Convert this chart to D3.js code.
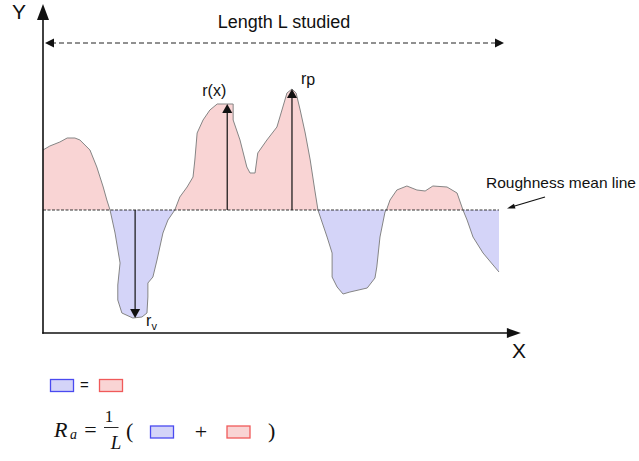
<!DOCTYPE html>
<html lang="en">
<head>
<meta charset="UTF-8">
<title>Roughness profile</title>
<script src="https://d3js.org/d3.v7.min.js"></script>
<style>
    body { margin: 0; padding: 0; background: #fff; }
    svg { display: block; }
    .lbl { font-family: 'Liberation Sans', Arial, sans-serif; fill: #111; }
    .math text { font-family: 'Liberation Serif', 'DejaVu Serif', serif; fill: #111; }
</style>
</head>
<body>
<div id="chart"></div>
<script>
// profile: position along the length studied (0..100) and height above mean line
const profileX = [0, 1.5, 3.7, 5.3, 7.0, 8.1, 10.3, 11.8, 13.2, 14.0, 14.7, 15.8, 16.9, 16.4, 16.4, 17.3, 19.7, 21.7, 22.8, 23.0,
    23.0, 24.1, 25.0, 26.3, 27.4, 28.9, 30.0, 31.6, 32.9, 33.3, 33.8, 35.1, 36.6, 38.2, 41.7, 41.7, 43.2, 44.7, 45.4, 46.5,
    47.1, 49.1, 51.3, 52.6, 53.5, 54.6, 55.5, 56.4, 57.5, 58.6, 59.6, 60.3, 62.3, 63.4, 63.4, 64.5, 65.8, 67.3, 71.1, 72.8,
    73.2, 73.9, 75.0, 75.4, 76.1, 77.6, 79.8, 82.0, 83.8, 85.5, 88.6, 90.8, 92.1, 93.0, 94.3, 96.5, 98.7, 100];
const profileR = [15, 16, 17, 18, 18, 17.5, 15, 10.75, 5.75, 2.5, 0, -5.75, -13.25, -18.75, -22.5, -25.75, -27, -26.75, -25.75, -21.75,
    -18.25, -16.75, -12.5, -5.75, -2.5, 0, 3.25, 5.75, 8.25, 12.5, 19.25, 22.5, 25, 26.5, 26.5, 22.5, 17.5, 10.75, 9.25, 9.25,
    14.25, 17.5, 20.75, 25.75, 29.25, 30.25, 29.25, 25, 19.25, 12.5, 5, 0, -6.75, -10.75, -16.75, -19.25, -21, -20.5, -19.5, -17,
    -14.25, -6.75, -0.5, 0.25, 2.5, 5, 6, 5, 4.75, 6, 5.75, 4.25, 0, -2.5, -6.75, -10.75, -13.75, -15.5];

// measured heights: r(x), peak rp, valley rv
const arrowLabels = ["r(x)", "rp", "rv"];
const arrowX = [40.4, 54.6, 20.2];
const arrowR = [26.5, 30.25, -27];

const profile = profileX.map((x, i) => ({ x: x, r: profileR[i] }));

const W = 639, H = 461;
const x = d3.scaleLinear().domain([0, 100]).range([43, 499]);
const y = d3.scaleLinear().domain([-30, 50]).range([330, 10]);
const x0 = x(0), y0 = y(0);
const axisY = y(-30.75), axisTop = y(51.5), axisRight = x(104.8);

const pink = "#f9d4d4", blue = "#d4d4f8";

const svg = d3.select("#chart").append("svg").attr("width", W).attr("height", H);
const defs = svg.append("defs");
defs.append("clipPath").attr("id", "above")
    .append("rect").attr("x", 0).attr("y", 0).attr("width", W).attr("height", y0);
defs.append("clipPath").attr("id", "below")
    .append("rect").attr("x", 0).attr("y", y0).attr("width", W).attr("height", H - y0);

const area = d3.area().x(d => x(d.x)).y0(y0).y1(d => y(d.r));
svg.append("path").datum(profile).attr("d", area).attr("fill", pink).attr("clip-path", "url(#above)");
svg.append("path").datum(profile).attr("d", area).attr("fill", blue).attr("clip-path", "url(#below)");
svg.append("path").datum(profile)
    .attr("d", d3.line().x(d => x(d.x)).y(d => y(d.r)))
    .attr("fill", "none").attr("stroke", "#858585").attr("stroke-width", 1);

// mean line
svg.append("line").attr("x1", x0).attr("x2", x(100)).attr("y1", y0).attr("y2", y0)
    .attr("stroke", "#333").attr("stroke-width", 1).attr("stroke-dasharray", "3,1.5");

function tri(tx, ty, dir, len, hw) {
    // dir: "up", "down", "left", "right"
    let p;
    if (dir === "up") p = [[tx, ty], [tx - hw, ty + len], [tx + hw, ty + len]];
    else if (dir === "down") p = [[tx, ty], [tx - hw, ty - len], [tx + hw, ty - len]];
    else if (dir === "left") p = [[tx, ty], [tx + len, ty - hw], [tx + len, ty + hw]];
    else p = [[tx, ty], [tx - len, ty - hw], [tx - len, ty + hw]];
    svg.append("path").attr("d", "M" + p.join("L") + "Z").attr("fill", "#111");
}

// height arrows
arrowX.forEach((ax, i) => {
    const tipY = y(arrowR[i]);
    const up = arrowR[i] > 0;
    svg.append("line").attr("x1", x(ax)).attr("x2", x(ax)).attr("y1", y0)
        .attr("y2", up ? tipY + 8 : tipY - 8).attr("stroke", "#111").attr("stroke-width", 1.2);
    tri(x(ax), tipY, up ? "up" : "down", 9, 5);
});

// labels for arrows
svg.append("text").attr("class", "lbl").attr("x", x(arrowX[0]) - 25).attr("y", y(arrowR[0]) - 8)
    .attr("font-size", 16).text(arrowLabels[0]);
const rp = svg.append("text").attr("class", "lbl").attr("x", x(arrowX[1]) + 9).attr("y", y(arrowR[1]) - 5)
    .attr("font-size", 16);
rp.append("tspan").text("r");
rp.append("tspan").attr("dy", 1).text("p");
const rv = svg.append("text").attr("class", "lbl").attr("x", x(arrowX[2]) + 11).attr("y", y(arrowR[2]) + 8)
    .attr("font-size", 16);
rv.append("tspan").text("r");
rv.append("tspan").attr("dy", 4).attr("font-size", 11).text("v");

// axes
svg.append("line").attr("x1", x0).attr("x2", x0).attr("y1", axisY + 0.75).attr("y2", axisTop + 14)
    .attr("stroke", "#111").attr("stroke-width", 1.6);
tri(x0, axisTop, "up", 16, 6);
svg.append("line").attr("x1", x0 - 0.75).attr("x2", axisRight - 12).attr("y1", axisY).attr("y2", axisY)
    .attr("stroke", "#111").attr("stroke-width", 1.6);
tri(axisRight, axisY, "right", 14, 5);
svg.append("text").attr("class", "lbl").attr("x", 19).attr("y", 19).attr("text-anchor", "middle")
    .attr("font-size", 21).text("Y");
svg.append("text").attr("class", "lbl").attr("x", 519).attr("y", 358).attr("text-anchor", "middle")
    .attr("font-size", 21).text("X");

// length studied
const lenY = 43;
svg.append("line").attr("x1", x0 + 8).attr("x2", 496).attr("y1", lenY).attr("y2", lenY)
    .attr("stroke", "#222").attr("stroke-width", 1).attr("stroke-dasharray", "5,3");
tri(x0 + 2, lenY, "left", 9, 4.5);
tri(504, lenY, "right", 9, 4.5);
svg.append("text").attr("class", "lbl").attr("x", 284).attr("y", 28).attr("text-anchor", "middle")
    .attr("font-size", 18).text("Length L studied");

// mean line label
svg.append("text").attr("class", "lbl").attr("x", 486).attr("y", 188)
    .attr("font-size", 15).attr("textLength", 150).attr("lengthAdjust", "spacingAndGlyphs")
    .text("Roughness mean line");
svg.append("line").attr("x1", 545).attr("y1", 197).attr("x2", 513).attr("y2", 206.5)
    .attr("stroke", "#111").attr("stroke-width", 1.3);
svg.append("path").attr("d", "M507,208.5L514,203.8L515.5,208.6Z").attr("fill", "#111");

// legend / formula
function box(bx, by, fill, stroke) {
    svg.append("rect").attr("x", bx).attr("y", by).attr("width", 23).attr("height", 12)
        .attr("fill", fill).attr("stroke", stroke).attr("stroke-width", 1.3);
}
box(50.5, 379.5, blue, "#4a4af0");
svg.append("text").attr("class", "lbl").attr("x", 84.5).attr("y", 390).attr("text-anchor", "middle")
    .attr("font-size", 15).text("=");
box(99.5, 379.5, pink, "#f05a5a");

const f = svg.append("g").attr("class", "math");
f.append("text").attr("x", 54).attr("y", 437).attr("font-size", 22).attr("font-style", "italic").text("R");
f.append("text").attr("x", 70).attr("y", 439).attr("font-size", 14).attr("font-style", "italic").text("a");
f.append("text").attr("x", 90.5).attr("y", 437).attr("font-size", 22).attr("text-anchor", "middle").text("=");
f.append("text").attr("x", 109).attr("y", 422).attr("font-size", 17).attr("text-anchor", "middle").text("1");
f.append("line").attr("x1", 104).attr("x2", 118.5).attr("y1", 427.5).attr("y2", 427.5)
    .attr("stroke", "#111").attr("stroke-width", 0.9);
f.append("text").attr("x", 116).attr("y", 448.5).attr("font-size", 19).attr("font-style", "italic")
    .attr("text-anchor", "middle").text("L");
f.append("text").attr("x", 126).attr("y", 438).attr("font-size", 22).text("(");
box(150.5, 426, blue, "#4a4af0");
f.append("text").attr("x", 201).attr("y", 439).attr("font-size", 22).attr("text-anchor", "middle").text("+");
box(227, 426, pink, "#f05a5a");
f.append("text").attr("x", 268).attr("y", 438).attr("font-size", 22).text(")");
</script>
</body>
</html>
